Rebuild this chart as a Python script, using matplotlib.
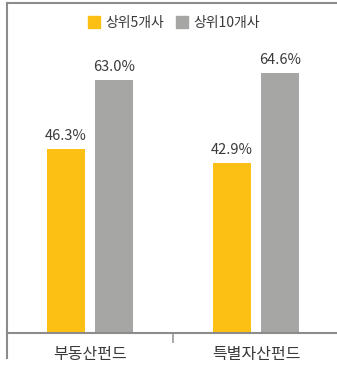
import matplotlib
matplotlib.use("Agg")
import matplotlib.pyplot as plt
from matplotlib.patches import Patch

plt.rcParams['font.family'] = ['Noto Sans CJK KR', 'DejaVu Sans']

categories = ['부동산펀드', '특별자산펀드']
series_names = ['상위5개사', '상위10개사']
top5 = [46.3, 42.9]
top10 = [63.0, 64.6]
colors = ['#FCC014', '#A6A6A5']

fig = plt.figure(figsize=(3.37, 3.66), dpi=100)
ax = fig.add_axes([7/337, 33/366, 332/337, 330/366])

centers = [0.5, 1.5]
w = 0.229
off = 0.147
b1 = ax.bar([c - off for c in centers], top5, width=w, color=colors[0])
b2 = ax.bar([c + off for c in centers], top10, width=w, color=colors[1])

for bars, vals in ((b1, top5), (b2, top10)):
    for bar, v in zip(bars, vals):
        ax.annotate(f'{v:.1f}%', (bar.get_x() + bar.get_width()/2, v),
                    xytext=(0, 4.5), textcoords='offset points',
                    ha='center', va='bottom', fontsize=10.5, color='#3a3a3a',
                    fontweight='light')

ax.set_xlim(0, 2)
ax.set_ylim(2, 81.5)
ax.set_yticks([])
ax.set_xticks([0, 1, 2])
ax.set_xticklabels([])
ax.set_xticks(centers, minor=True)
ax.set_xticklabels(categories, minor=True, fontsize=11.5, color='#3a3a3a')
ax.tick_params(axis='x', which='major', length=7, width=1.2, color='#9a9a9a', direction='out')
ax.tick_params(axis='x', which='minor', length=0, pad=9)

for s in ['left', 'top', 'bottom']:
    ax.spines[s].set_color('#8c8c8c')
    ax.spines[s].set_linewidth(1.5)
ax.spines['right'].set_visible(False)
ax.spines['left'].set_bounds(-4, 81.5)
ax.spines['left'].set_clip_on(False)

handles = [Patch(color=c) for c in colors]
fig.legend(handles, series_names, loc='center', bbox_to_anchor=(174/337, 1 - 23/366),
           ncol=2, frameon=False, fontsize=10, handlelength=0.9, handleheight=0.9,
           handletextpad=0.4, columnspacing=0.8, labelcolor='#3a3a3a')

fig.savefig('out.png', dpi=100)
